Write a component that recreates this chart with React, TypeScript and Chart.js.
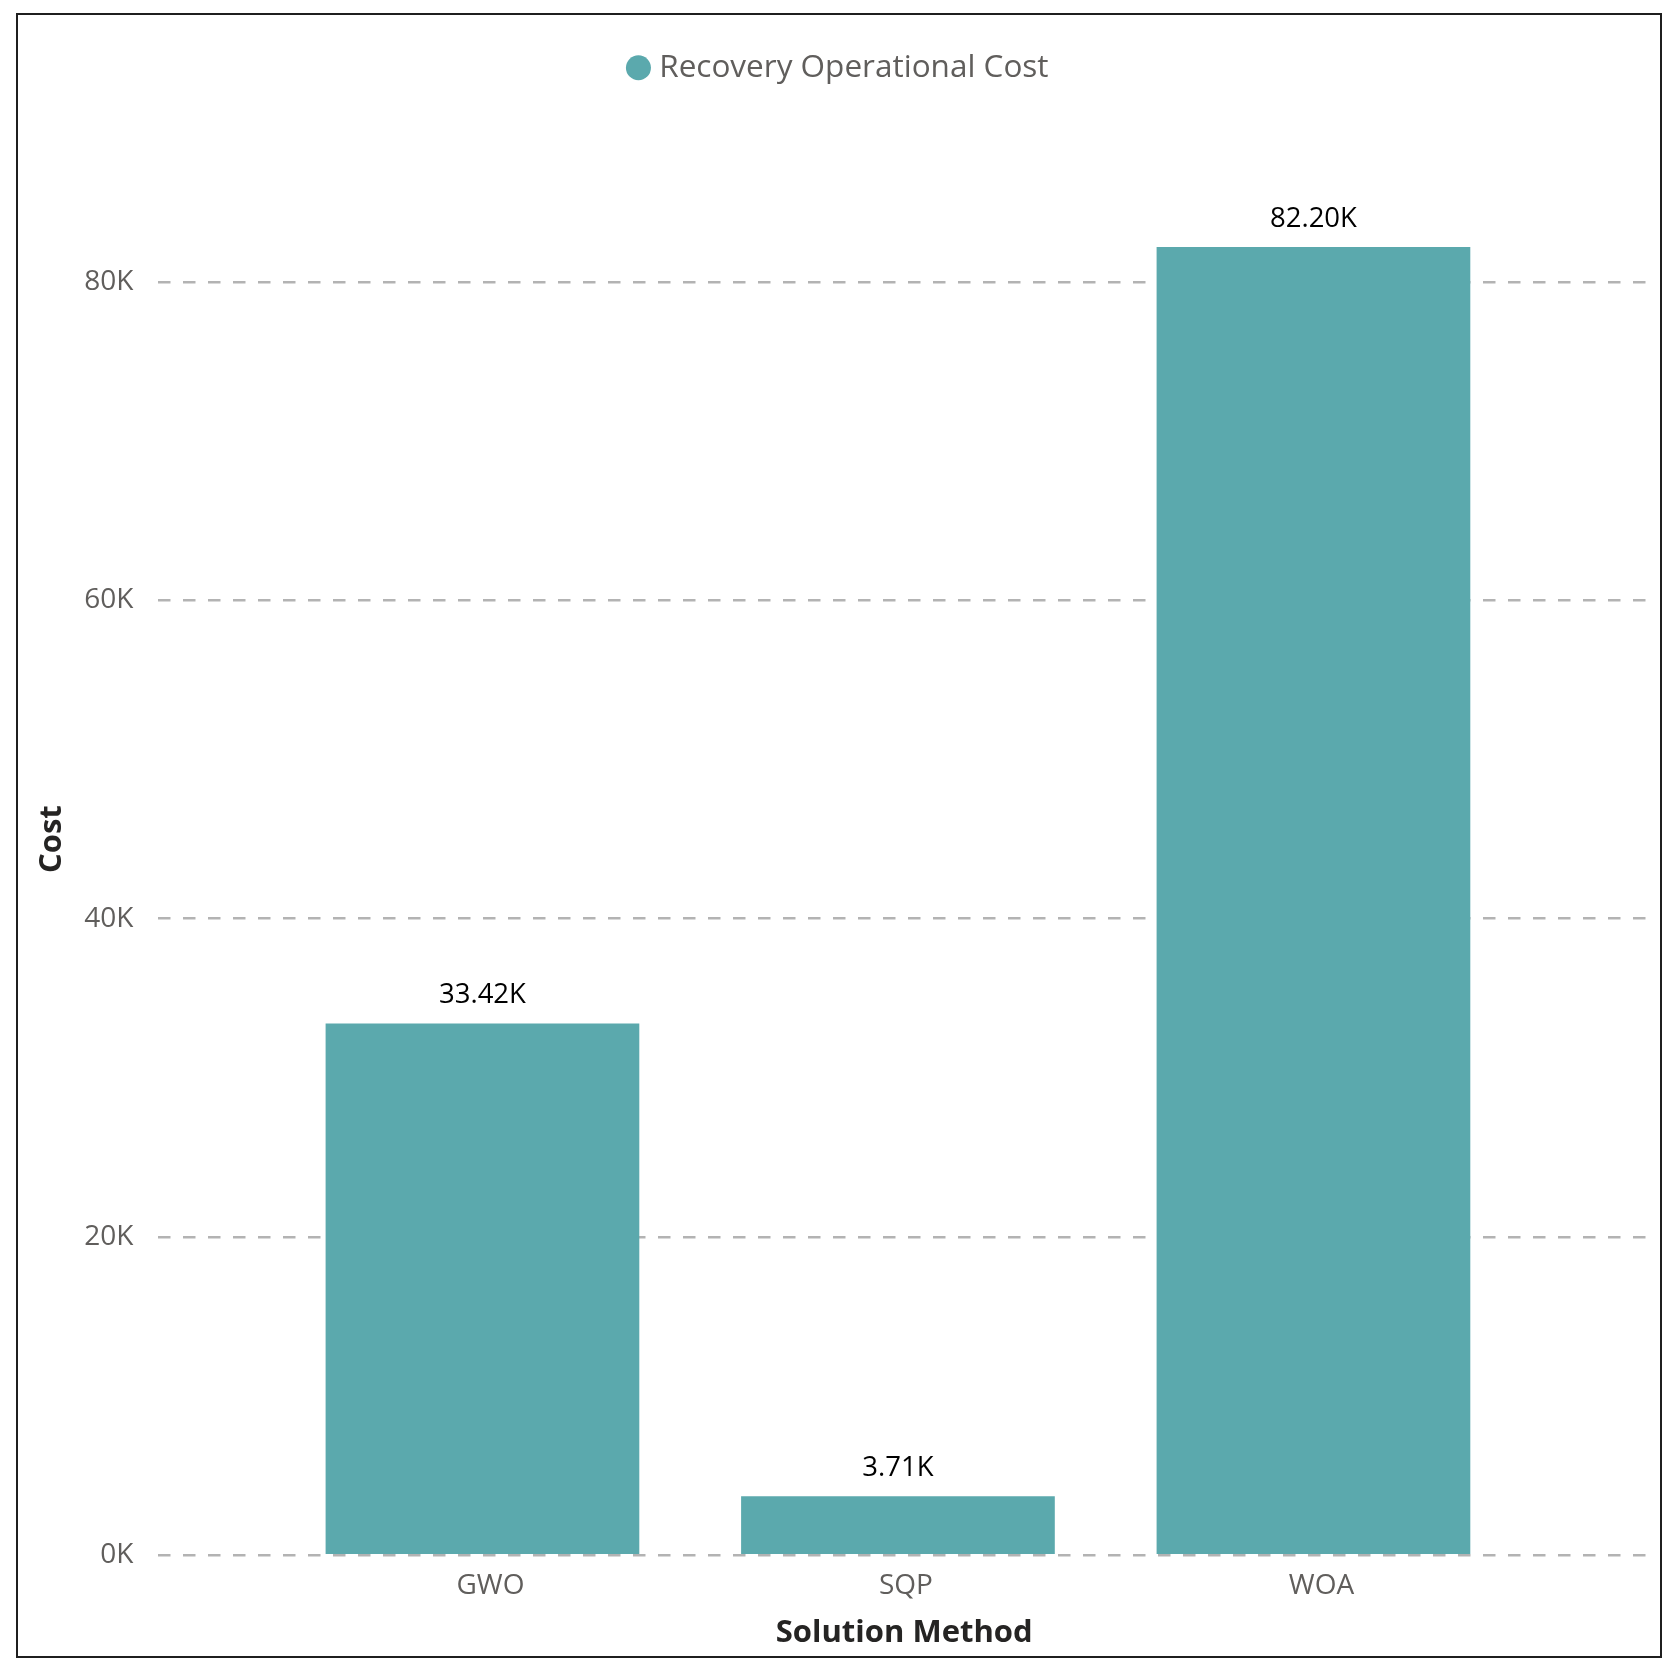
import { useEffect, useRef } from "react";
import { Chart, registerables } from "chart.js";

Chart.register(...registerables);

const methods = ["GWO", "SQP", "WOA"];
const recoveryCost = [33420, 3710, 82200];
const yTicks = [0, 20000, 40000, 60000, 80000];

const TEAL = "#5BA9AD";
const FONT = "'Open Sans', 'Noto Sans', sans-serif";
const GREY = "#605E5C";
const DARK = "#252423";

const formatK = (v: number) => `${(v / 1000).toFixed(2)}K`;

// draws the "33.42K" style labels above each bar
const valueLabels = {
  id: "valueLabels",
  afterDatasetsDraw(chart: Chart) {
    const { ctx } = chart;
    const meta = chart.getDatasetMeta(0);
    ctx.save();
    ctx.font = `27.5px ${FONT}`;
    ctx.fillStyle = "#000";
    ctx.textAlign = "center";
    ctx.textBaseline = "middle";
    meta.data.forEach((bar, i) => {
      ctx.fillText(formatK(recoveryCost[i]), bar.x, bar.y - 28);
    });
    ctx.restore();
  },
};

const CostChart = () => {
  const canvasRef = useRef<HTMLCanvasElement | null>(null);
  const chartRef = useRef<Chart | null>(null);

  useEffect(() => {
    if (!canvasRef.current) return;
    if (chartRef.current) chartRef.current.destroy();

    chartRef.current = new Chart(canvasRef.current, {
      type: "bar",
      data: {
        datasets: [
          {
            label: "Recovery Operational Cost",
            data: methods.map((_, i) => ({ x: i, y: recoveryCost[i] })),
            backgroundColor: TEAL,
            borderWidth: 0,
            barPercentage: 0.755,
            categoryPercentage: 1,
          },
        ],
      },
      options: {
        responsive: true,
        maintainAspectRatio: false,
        animation: false,
        layout: { padding: { top: 42, right: 24, bottom: 10, left: 32 } },
        plugins: {
          legend: {
            position: "top",
            align: "center",
            labels: {
              usePointStyle: true,
              pointStyle: "circle",
              boxWidth: 10,
              boxHeight: 17.7,
              padding: 10,
              color: GREY,
              font: { family: FONT, size: 31.5 },
            },
          },
          // empty spacer between the legend and the plot area
          subtitle: {
            display: true,
            text: "",
            weight: 999,
            padding: 0,
            font: { size: 29.5, lineHeight: 1 },
          },
          tooltip: { enabled: false },
        },
        scales: {
          x: {
            type: "linear",
            min: -0.78,
            max: 2.81,
            offset: false,
            afterBuildTicks: (scale) => {
              scale.ticks = methods.map((_, i) => ({ value: i }));
            },
            ticks: {
              callback: (v) => methods[Number(v)] ?? "",
              color: GREY,
              font: { family: FONT, size: 28 },
              padding: 6,
              labelOffset: 8,
              autoSkip: false,
              maxRotation: 0,
            },
            grid: { display: false },
            border: { display: false },
            title: {
              display: true,
              text: "Solution Method",
              color: DARK,
              font: { family: FONT, size: 31, weight: "bold" },
              padding: { top: 6, bottom: 4 },
            },
          },
          y: {
            min: 0,
            max: 90000,
            afterBuildTicks: (scale) => {
              scale.ticks = yTicks.map((value) => ({ value }));
            },
            ticks: {
              callback: (v) => `${Number(v) / 1000}K`,
              color: GREY,
              font: { family: FONT, size: 28 },
              padding: 25,
            },
            grid: {
              color: "#B3B3B3",
              lineWidth: 2.5,
              drawTicks: false,
            },
            border: { display: false, dash: [12.5, 12.5] },
            title: {
              display: true,
              text: "Cost",
              color: DARK,
              font: { family: FONT, size: 31, weight: "bold" },
              padding: { top: 2, bottom: -12 },
            },
          },
        },
      },
      plugins: [valueLabels],
    });

    return () => {
      chartRef.current?.destroy();
      chartRef.current = null;
    };
  }, []);

  return (
    <div
      style={{
        position: "absolute",
        left: 0,
        top: 0,
        width: "1674px",
        height: "1666px",
        background: "#fff",
      }}
    >
      <div
        style={{
          position: "absolute",
          left: "16px",
          top: "13px",
          width: "1646px",
          height: "1645px",
          boxSizing: "border-box",
          border: "2px solid #1f1f1f",
        }}
      />
      <canvas ref={canvasRef} />
    </div>
  );
};

export default function App() {
  return <CostChart />;
}
